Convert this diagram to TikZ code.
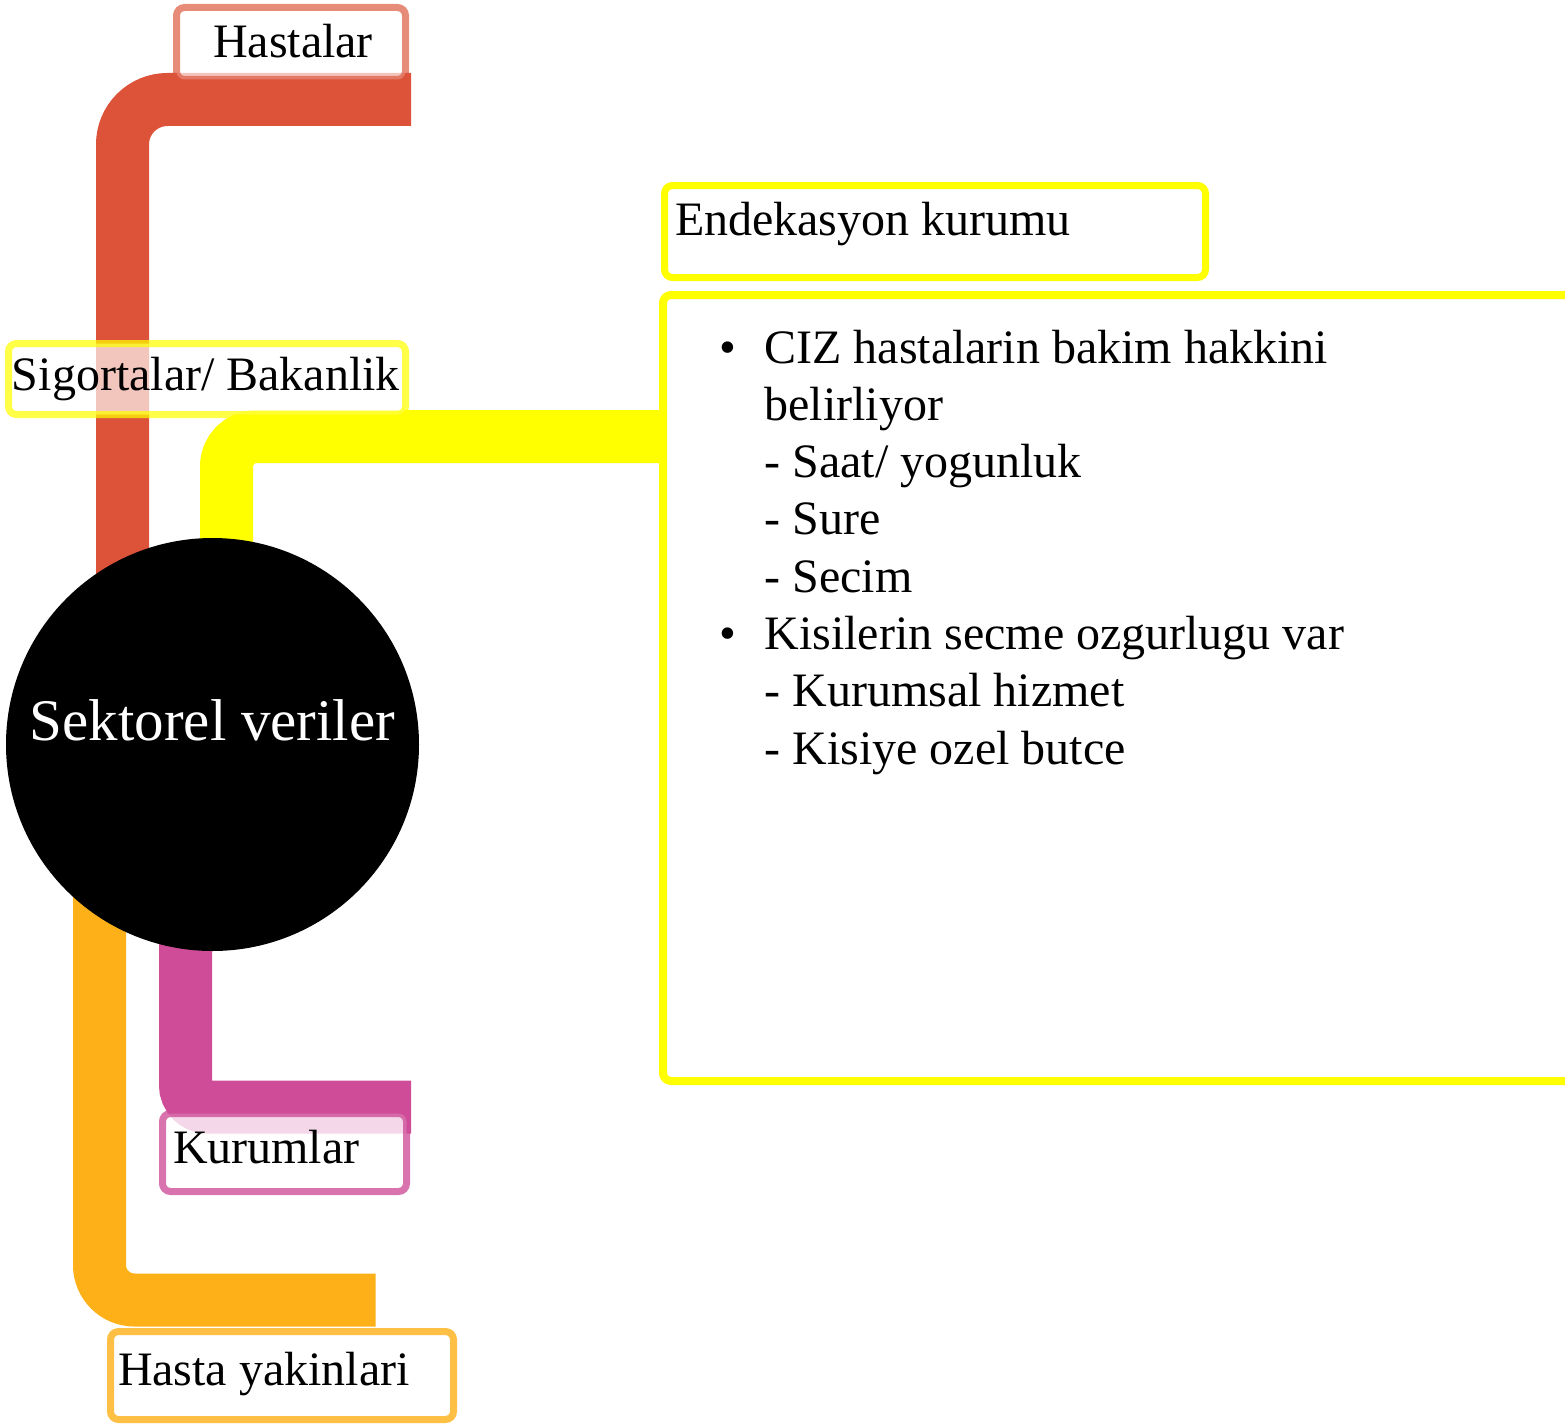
\documentclass[tikz,border=0pt]{standalone}
\usepackage{fontspec}
\setmainfont{Liberation Serif}
\usetikzlibrary{calc}
\pgfdeclarelayer{bg}
\pgfsetlayers{bg,main}
\definecolor{redc}{HTML}{DC5339}
\definecolor{pinkc}{HTML}{CE4C98}
\definecolor{orangec}{HTML}{FDB017}
\definecolor{yelc}{HTML}{FFFF00}
\newcommand\mybul[1]{\hspace*{56pt}\makebox[45.4pt][l]{\textbullet}#1\par}
\newcommand\mysub[1]{\hspace*{101.4pt}#1\par}
\tikzset{
  conn/.style={line width=53pt, line cap=butt},
  leaf/.style={rectangle, rounded corners=8pt, line width=7pt, fill=white,
    text opacity=1, inner ysep=0pt, font=\fontsize{48pt}{57.3pt}\selectfont,
    text depth=12pt, text height=34pt},
  hub/.style={circle, fill=black, minimum size=413pt, inner sep=0pt, text=white,
    font=\fontsize{59pt}{70pt}\selectfont, text height=40pt, text depth=48pt},
  bigbox/.style={rectangle, rounded corners=8pt, line width=8pt, draw=yelc,
    fill=white, inner sep=0pt, anchor=north west}
}
\begin{document}
\begin{tikzpicture}[x=1pt,y=-1pt]
\useasboundingbox (0,0) rectangle (1565,1426);
\clip (0,0) rectangle (1565,1426);

% nodes
\node[hub] (ctr) at (212.5,744.5) {Sektorel veriler};

\node[leaf, draw=redc, draw opacity=0.67, fill opacity=0.67,
  inner xsep=0pt, minimum width=229pt, minimum height=72pt, text height=41pt]
  (hast) at (291,43.5) {\makebox[229pt][c]{\hspace*{4pt}Hastalar}};

\node[leaf, draw=yelc, draw opacity=0.72, fill opacity=0.67,
  inner xsep=3.5pt, minimum width=397pt, minimum height=71pt]
  (sig) at (207,379) {\makebox[390pt][l]{Sigortalar/ Bakanlik}};

\node[leaf, draw=yelc, inner xsep=10.5pt, minimum width=541pt, minimum height=92pt,
  text height=19pt]
  (endk) at (935,231.5) {\makebox[520pt][l]{Endekasyon kurumu}};

\node[leaf, draw=pinkc, draw opacity=0.78, fill opacity=0.78,
  inner xsep=10.5pt, minimum width=244pt, minimum height=78pt, text height=33pt]
  (kur) at (284.5,1152.5) {\makebox[223pt][l]{Kurumlar}};

\node[leaf, draw=orangec, draw opacity=0.8, fill opacity=0.8,
  inner xsep=7.5pt, minimum width=343pt, minimum height=88pt, text height=31pt]
  (hy) at (282,1375.5) {\makebox[328pt][l]{Hasta yakinlari}};

\node[bigbox] (bigb) at (659,291) {\begin{minipage}[t][786pt][t]{1041pt}%
\fontsize{48pt}{57.3pt}\selectfont\setlength{\parindent}{0pt}%
\rule{0pt}{68pt}\mybul{CIZ hastalarin bakim hakkini}
\mysub{belirliyor}
\mysub{- Saat/ yogunluk}
\mysub{- Sure}
\mysub{- Secim}
\mybul{Kisilerin secme ozgurlugu var}
\mysub{- Kurumsal hizmet}
\mysub{- Kisiye ozel butce}
\end{minipage}};

% connectors
\begin{pgfonlayer}{bg}
\draw[conn, redc, rounded corners=45pt]
  ($(ctr.center)+(-90,0)$) |- ($(hast.south east)+(2,16.5)$);
\draw[conn, yelc, rounded corners=30pt]
  ($(ctr.center)+(14,0)$) |- ($(bigb.north west)+(0,145.5)$);
\draw[conn, pinkc, rounded corners=22pt]
  ($(ctr.center)+(-27,0)$) |- ($(kur.north east)+(1,-3)$);
\draw[conn, orangec, rounded corners=35pt]
  ($(ctr.center)+(-113,0)$) |- ($(hy.north west)+(268.5,-28)$);
\end{pgfonlayer}
\end{tikzpicture}
\end{document}
